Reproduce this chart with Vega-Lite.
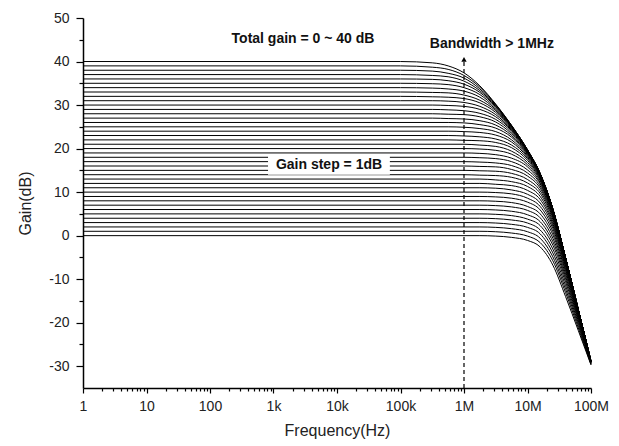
{
"$schema": "https://vega.github.io/schema/vega-lite/v6.json",
"width": 508, "height": 370,
"autosize": {"type": "none"},
"padding": {"left": 83, "top": 18, "right": 28, "bottom": 58},
"background": "white",
"config": {"view": {"stroke": null}, "font": "Liberation Sans",
 "axis": {"domainColor": "black", "tickColor": "black", "labelColor": "#222", "titleColor": "#222", "labelFont": "Liberation Sans", "titleFont": "Liberation Sans", "grid": false, "domainWidth": 1.5, "tickWidth": 1.2}},
"datasets": {
"curves": [
{"g":40,"f":1,"v":40},{"g":40,"f":1e5,"v":40},{"g":40,"f":316228,"v":39.7},{"g":40,"f":562341,"v":39.0},{"g":40,"f":1e6,"v":37.4},{"g":40,"f":1778279,"v":34.4},{"g":40,"f":3162278,"v":30.2},{"g":40,"f":5623413,"v":25.3},{"g":40,"f":1e7,"v":19.7},{"g":40,"f":15848932,"v":14.3},{"g":40,"f":25118864,"v":6.1},{"g":40,"f":39810717,"v":-5.1},{"g":40,"f":63095734,"v":-17.0},{"g":40,"f":1e8,"v":-28.9},
{"g":39,"f":1,"v":39},{"g":39,"f":1e5,"v":39},{"g":39,"f":316228,"v":38.7},{"g":39,"f":562341,"v":38.2},{"g":39,"f":1e6,"v":36.8},{"g":39,"f":1778279,"v":34.1},{"g":39,"f":3162278,"v":30.1},{"g":39,"f":5623413,"v":25.3},{"g":39,"f":1e7,"v":19.7},{"g":39,"f":15848932,"v":14.2},{"g":39,"f":25118864,"v":6.1},{"g":39,"f":39810717,"v":-5.1},{"g":39,"f":63095734,"v":-17.0},{"g":39,"f":1e8,"v":-28.9},
{"g":38,"f":1,"v":38},{"g":38,"f":1e5,"v":38},{"g":38,"f":316228,"v":37.8},{"g":38,"f":562341,"v":37.3},{"g":38,"f":1e6,"v":36.2},{"g":38,"f":1778279,"v":33.7},{"g":38,"f":3162278,"v":30.0},{"g":38,"f":5623413,"v":25.2},{"g":38,"f":1e7,"v":19.7},{"g":38,"f":15848932,"v":14.2},{"g":38,"f":25118864,"v":6.1},{"g":38,"f":39810717,"v":-5.1},{"g":38,"f":63095734,"v":-17.0},{"g":38,"f":1e8,"v":-28.9},
{"g":37,"f":1,"v":37},{"g":37,"f":1e5,"v":37},{"g":37,"f":316228,"v":36.8},{"g":37,"f":562341,"v":36.5},{"g":37,"f":1e6,"v":35.5},{"g":37,"f":1778279,"v":33.3},{"g":37,"f":3162278,"v":29.8},{"g":37,"f":5623413,"v":25.2},{"g":37,"f":1e7,"v":19.7},{"g":37,"f":15848932,"v":14.2},{"g":37,"f":25118864,"v":6.0},{"g":37,"f":39810717,"v":-5.1},{"g":37,"f":63095734,"v":-17.0},{"g":37,"f":1e8,"v":-28.9},
{"g":36,"f":1,"v":36},{"g":36,"f":1e5,"v":36},{"g":36,"f":316228,"v":35.9},{"g":36,"f":562341,"v":35.6},{"g":36,"f":1e6,"v":34.8},{"g":36,"f":1778279,"v":32.9},{"g":36,"f":3162278,"v":29.6},{"g":36,"f":5623413,"v":25.1},{"g":36,"f":1e7,"v":19.6},{"g":36,"f":15848932,"v":14.2},{"g":36,"f":25118864,"v":6.0},{"g":36,"f":39810717,"v":-5.1},{"g":36,"f":63095734,"v":-17.0},{"g":36,"f":1e8,"v":-28.9},
{"g":35,"f":1,"v":35},{"g":35,"f":1e5,"v":35},{"g":35,"f":316228,"v":34.9},{"g":35,"f":562341,"v":34.7},{"g":35,"f":1e6,"v":34.0},{"g":35,"f":1778279,"v":32.4},{"g":35,"f":3162278,"v":29.3},{"g":35,"f":5623413,"v":25.0},{"g":35,"f":1e7,"v":19.6},{"g":35,"f":15848932,"v":14.2},{"g":35,"f":25118864,"v":6.0},{"g":35,"f":39810717,"v":-5.1},{"g":35,"f":63095734,"v":-17.0},{"g":35,"f":1e8,"v":-28.9},
{"g":34,"f":1,"v":34},{"g":34,"f":1e5,"v":34},{"g":34,"f":316228,"v":33.9},{"g":34,"f":562341,"v":33.7},{"g":34,"f":1e6,"v":33.2},{"g":34,"f":1778279,"v":31.8},{"g":34,"f":3162278,"v":29.0},{"g":34,"f":5623413,"v":24.9},{"g":34,"f":1e7,"v":19.6},{"g":34,"f":15848932,"v":14.2},{"g":34,"f":25118864,"v":6.0},{"g":34,"f":39810717,"v":-5.1},{"g":34,"f":63095734,"v":-17.0},{"g":34,"f":1e8,"v":-28.9},
{"g":33,"f":1,"v":33},{"g":33,"f":1e5,"v":33},{"g":33,"f":316228,"v":32.9},{"g":33,"f":562341,"v":32.8},{"g":33,"f":1e6,"v":32.3},{"g":33,"f":1778279,"v":31.1},{"g":33,"f":3162278,"v":28.7},{"g":33,"f":5623413,"v":24.7},{"g":33,"f":1e7,"v":19.5},{"g":33,"f":15848932,"v":14.2},{"g":33,"f":25118864,"v":6.0},{"g":33,"f":39810717,"v":-5.1},{"g":33,"f":63095734,"v":-17.0},{"g":33,"f":1e8,"v":-28.9},
{"g":32,"f":1,"v":32},{"g":32,"f":1e5,"v":32},{"g":32,"f":316228,"v":31.9},{"g":32,"f":562341,"v":31.8},{"g":32,"f":1e6,"v":31.5},{"g":32,"f":1778279,"v":30.5},{"g":32,"f":3162278,"v":28.3},{"g":32,"f":5623413,"v":24.5},{"g":32,"f":1e7,"v":19.4},{"g":32,"f":15848932,"v":14.1},{"g":32,"f":25118864,"v":6.0},{"g":32,"f":39810717,"v":-5.1},{"g":32,"f":63095734,"v":-17.0},{"g":32,"f":1e8,"v":-28.9},
{"g":31,"f":1,"v":31},{"g":31,"f":1e5,"v":31},{"g":31,"f":316228,"v":31.0},{"g":31,"f":562341,"v":30.9},{"g":31,"f":1e6,"v":30.6},{"g":31,"f":1778279,"v":29.7},{"g":31,"f":3162278,"v":27.8},{"g":31,"f":5623413,"v":24.3},{"g":31,"f":1e7,"v":19.4},{"g":31,"f":15848932,"v":14.1},{"g":31,"f":25118864,"v":6.0},{"g":31,"f":39810717,"v":-5.2},{"g":31,"f":63095734,"v":-17.0},{"g":31,"f":1e8,"v":-28.9},
{"g":30,"f":1,"v":30},{"g":30,"f":316228,"v":30},{"g":30,"f":562341,"v":29.9},{"g":30,"f":1e6,"v":29.7},{"g":30,"f":1778279,"v":29.0},{"g":30,"f":3162278,"v":27.3},{"g":30,"f":5623413,"v":24.1},{"g":30,"f":1e7,"v":19.3},{"g":30,"f":15848932,"v":14.1},{"g":30,"f":25118864,"v":6.0},{"g":30,"f":39810717,"v":-5.2},{"g":30,"f":63095734,"v":-17.0},{"g":30,"f":1e8,"v":-28.9},
{"g":29,"f":1,"v":29},{"g":29,"f":316228,"v":29},{"g":29,"f":562341,"v":28.9},{"g":29,"f":1e6,"v":28.7},{"g":29,"f":1778279,"v":28.1},{"g":29,"f":3162278,"v":26.7},{"g":29,"f":5623413,"v":23.8},{"g":29,"f":1e7,"v":19.1},{"g":29,"f":15848932,"v":14.0},{"g":29,"f":25118864,"v":6.0},{"g":29,"f":39810717,"v":-5.2},{"g":29,"f":63095734,"v":-17.0},{"g":29,"f":1e8,"v":-28.9},
{"g":28,"f":1,"v":28},{"g":28,"f":316228,"v":28},{"g":28,"f":562341,"v":27.9},{"g":28,"f":1e6,"v":27.8},{"g":28,"f":1778279,"v":27.3},{"g":28,"f":3162278,"v":26.1},{"g":28,"f":5623413,"v":23.4},{"g":28,"f":1e7,"v":19.0},{"g":28,"f":15848932,"v":14.0},{"g":28,"f":25118864,"v":5.9},{"g":28,"f":39810717,"v":-5.2},{"g":28,"f":63095734,"v":-17.0},{"g":28,"f":1e8,"v":-28.9},
{"g":27,"f":1,"v":27},{"g":27,"f":316228,"v":27},{"g":27,"f":562341,"v":26.9},{"g":27,"f":1e6,"v":26.8},{"g":27,"f":1778279,"v":26.4},{"g":27,"f":3162278,"v":25.4},{"g":27,"f":5623413,"v":23.0},{"g":27,"f":1e7,"v":18.8},{"g":27,"f":15848932,"v":13.9},{"g":27,"f":25118864,"v":5.9},{"g":27,"f":39810717,"v":-5.2},{"g":27,"f":63095734,"v":-17.0},{"g":27,"f":1e8,"v":-28.9},
{"g":26,"f":1,"v":26},{"g":26,"f":562341,"v":26},{"g":26,"f":1e6,"v":25.9},{"g":26,"f":1778279,"v":25.5},{"g":26,"f":3162278,"v":24.7},{"g":26,"f":5623413,"v":22.6},{"g":26,"f":1e7,"v":18.6},{"g":26,"f":15848932,"v":13.8},{"g":26,"f":25118864,"v":5.9},{"g":26,"f":39810717,"v":-5.2},{"g":26,"f":63095734,"v":-17.0},{"g":26,"f":1e8,"v":-28.9},
{"g":25,"f":1,"v":25},{"g":25,"f":562341,"v":25},{"g":25,"f":1e6,"v":24.9},{"g":25,"f":1778279,"v":24.6},{"g":25,"f":3162278,"v":23.9},{"g":25,"f":5623413,"v":22.0},{"g":25,"f":1e7,"v":18.3},{"g":25,"f":15848932,"v":13.7},{"g":25,"f":25118864,"v":5.8},{"g":25,"f":39810717,"v":-5.2},{"g":25,"f":63095734,"v":-17.0},{"g":25,"f":1e8,"v":-28.9},
{"g":24,"f":1,"v":24},{"g":24,"f":562341,"v":24},{"g":24,"f":1e6,"v":23.9},{"g":24,"f":1778279,"v":23.7},{"g":24,"f":3162278,"v":23.1},{"g":24,"f":5623413,"v":21.5},{"g":24,"f":1e7,"v":18.0},{"g":24,"f":15848932,"v":13.5},{"g":24,"f":25118864,"v":5.7},{"g":24,"f":39810717,"v":-5.2},{"g":24,"f":63095734,"v":-17.0},{"g":24,"f":1e8,"v":-28.9},
{"g":23,"f":1,"v":23},{"g":23,"f":562341,"v":23},{"g":23,"f":1e6,"v":22.9},{"g":23,"f":1778279,"v":22.7},{"g":23,"f":3162278,"v":22.2},{"g":23,"f":5623413,"v":20.8},{"g":23,"f":1e7,"v":17.7},{"g":23,"f":15848932,"v":13.3},{"g":23,"f":25118864,"v":5.7},{"g":23,"f":39810717,"v":-5.3},{"g":23,"f":63095734,"v":-17.0},{"g":23,"f":1e8,"v":-28.9},
{"g":22,"f":1,"v":22},{"g":22,"f":562341,"v":22},{"g":22,"f":1e6,"v":21.9},{"g":22,"f":1778279,"v":21.8},{"g":22,"f":3162278,"v":21.4},{"g":22,"f":5623413,"v":20.2},{"g":22,"f":1e7,"v":17.3},{"g":22,"f":15848932,"v":13.1},{"g":22,"f":25118864,"v":5.6},{"g":22,"f":39810717,"v":-5.3},{"g":22,"f":63095734,"v":-17.1},{"g":22,"f":1e8,"v":-28.9},
{"g":21,"f":1,"v":21},{"g":21,"f":1e6,"v":21},{"g":21,"f":1778279,"v":20.8},{"g":21,"f":3162278,"v":20.5},{"g":21,"f":5623413,"v":19.4},{"g":21,"f":1e7,"v":16.8},{"g":21,"f":15848932,"v":12.9},{"g":21,"f":25118864,"v":5.5},{"g":21,"f":39810717,"v":-5.3},{"g":21,"f":63095734,"v":-17.1},{"g":21,"f":1e8,"v":-28.9},
{"g":20,"f":1,"v":20},{"g":20,"f":1e6,"v":20},{"g":20,"f":1778279,"v":19.9},{"g":20,"f":3162278,"v":19.6},{"g":20,"f":5623413,"v":18.7},{"g":20,"f":1e7,"v":16.3},{"g":20,"f":15848932,"v":12.6},{"g":20,"f":25118864,"v":5.3},{"g":20,"f":39810717,"v":-5.4},{"g":20,"f":63095734,"v":-17.1},{"g":20,"f":1e8,"v":-28.9},
{"g":19,"f":1,"v":19},{"g":19,"f":1e6,"v":19},{"g":19,"f":1778279,"v":18.9},{"g":19,"f":3162278,"v":18.6},{"g":19,"f":5623413,"v":17.8},{"g":19,"f":1e7,"v":15.8},{"g":19,"f":15848932,"v":12.2},{"g":19,"f":25118864,"v":5.2},{"g":19,"f":39810717,"v":-5.5},{"g":19,"f":63095734,"v":-17.1},{"g":19,"f":1e8,"v":-28.9},
{"g":18,"f":1,"v":18},{"g":18,"f":1e6,"v":18},{"g":18,"f":1778279,"v":17.9},{"g":18,"f":3162278,"v":17.7},{"g":18,"f":5623413,"v":17.0},{"g":18,"f":1e7,"v":15.1},{"g":18,"f":15848932,"v":11.9},{"g":18,"f":25118864,"v":5.0},{"g":18,"f":39810717,"v":-5.6},{"g":18,"f":63095734,"v":-17.1},{"g":18,"f":1e8,"v":-28.9},
{"g":17,"f":1,"v":17},{"g":17,"f":1e6,"v":17},{"g":17,"f":1778279,"v":16.9},{"g":17,"f":3162278,"v":16.7},{"g":17,"f":5623413,"v":16.1},{"g":17,"f":1e7,"v":14.4},{"g":17,"f":15848932,"v":11.4},{"g":17,"f":25118864,"v":4.7},{"g":17,"f":39810717,"v":-5.7},{"g":17,"f":63095734,"v":-17.2},{"g":17,"f":1e8,"v":-28.9},
{"g":16,"f":1,"v":16},{"g":16,"f":1e6,"v":16},{"g":16,"f":1778279,"v":15.9},{"g":16,"f":3162278,"v":15.8},{"g":16,"f":5623413,"v":15.2},{"g":16,"f":1e7,"v":13.7},{"g":16,"f":15848932,"v":10.9},{"g":16,"f":25118864,"v":4.4},{"g":16,"f":39810717,"v":-5.8},{"g":16,"f":63095734,"v":-17.2},{"g":16,"f":1e8,"v":-28.9},
{"g":15,"f":1,"v":15},{"g":15,"f":1e6,"v":15},{"g":15,"f":1778279,"v":14.9},{"g":15,"f":3162278,"v":14.8},{"g":15,"f":5623413,"v":14.3},{"g":15,"f":1e7,"v":12.9},{"g":15,"f":15848932,"v":10.3},{"g":15,"f":25118864,"v":4.1},{"g":15,"f":39810717,"v":-6.0},{"g":15,"f":63095734,"v":-17.3},{"g":15,"f":1e8,"v":-28.9},
{"g":14,"f":1,"v":14},{"g":14,"f":1e6,"v":14},{"g":14,"f":1778279,"v":13.9},{"g":14,"f":3162278,"v":13.8},{"g":14,"f":5623413,"v":13.4},{"g":14,"f":1e7,"v":12.1},{"g":14,"f":15848932,"v":9.7},{"g":14,"f":25118864,"v":3.7},{"g":14,"f":39810717,"v":-6.1},{"g":14,"f":63095734,"v":-17.3},{"g":14,"f":1e8,"v":-28.9},
{"g":13,"f":1,"v":13},{"g":13,"f":1778279,"v":13},{"g":13,"f":3162278,"v":12.8},{"g":13,"f":5623413,"v":12.4},{"g":13,"f":1e7,"v":11.3},{"g":13,"f":15848932,"v":9.0},{"g":13,"f":25118864,"v":3.2},{"g":13,"f":39810717,"v":-6.4},{"g":13,"f":63095734,"v":-17.4},{"g":13,"f":1e8,"v":-29.0},
{"g":12,"f":1,"v":12},{"g":12,"f":1778279,"v":12},{"g":12,"f":3162278,"v":11.8},{"g":12,"f":5623413,"v":11.5},{"g":12,"f":1e7,"v":10.4},{"g":12,"f":15848932,"v":8.3},{"g":12,"f":25118864,"v":2.7},{"g":12,"f":39810717,"v":-6.6},{"g":12,"f":63095734,"v":-17.5},{"g":12,"f":1e8,"v":-29.0},
{"g":11,"f":1,"v":11},{"g":11,"f":1778279,"v":11},{"g":11,"f":3162278,"v":10.9},{"g":11,"f":5623413,"v":10.5},{"g":11,"f":1e7,"v":9.5},{"g":11,"f":15848932,"v":7.5},{"g":11,"f":25118864,"v":2.2},{"g":11,"f":39810717,"v":-7.0},{"g":11,"f":63095734,"v":-17.7},{"g":11,"f":1e8,"v":-29.0},
{"g":10,"f":1,"v":10},{"g":10,"f":1778279,"v":10},{"g":10,"f":3162278,"v":9.9},{"g":10,"f":5623413,"v":9.6},{"g":10,"f":1e7,"v":8.6},{"g":10,"f":15848932,"v":6.7},{"g":10,"f":25118864,"v":1.6},{"g":10,"f":39810717,"v":-7.3},{"g":10,"f":63095734,"v":-17.8},{"g":10,"f":1e8,"v":-29.0},
{"g":9,"f":1,"v":9},{"g":9,"f":1778279,"v":9},{"g":9,"f":3162278,"v":8.9},{"g":9,"f":5623413,"v":8.6},{"g":9,"f":1e7,"v":7.7},{"g":9,"f":15848932,"v":5.9},{"g":9,"f":25118864,"v":0.9},{"g":9,"f":39810717,"v":-7.8},{"g":9,"f":63095734,"v":-18.0},{"g":9,"f":1e8,"v":-29.0},
{"g":8,"f":1,"v":8},{"g":8,"f":1778279,"v":8},{"g":8,"f":3162278,"v":7.9},{"g":8,"f":5623413,"v":7.6},{"g":8,"f":1e7,"v":6.7},{"g":8,"f":15848932,"v":5.0},{"g":8,"f":25118864,"v":0.2},{"g":8,"f":39810717,"v":-8.2},{"g":8,"f":63095734,"v":-18.2},{"g":8,"f":1e8,"v":-29.1},
{"g":7,"f":1,"v":7},{"g":7,"f":1778279,"v":7},{"g":7,"f":3162278,"v":6.9},{"g":7,"f":5623413,"v":6.6},{"g":7,"f":1e7,"v":5.8},{"g":7,"f":15848932,"v":4.1},{"g":7,"f":25118864,"v":-0.6},{"g":7,"f":39810717,"v":-8.8},{"g":7,"f":63095734,"v":-18.5},{"g":7,"f":1e8,"v":-29.1},
{"g":6,"f":1,"v":6},{"g":6,"f":1778279,"v":6},{"g":6,"f":3162278,"v":5.9},{"g":6,"f":5623413,"v":5.6},{"g":6,"f":1e7,"v":4.8},{"g":6,"f":15848932,"v":3.2},{"g":6,"f":25118864,"v":-1.4},{"g":6,"f":39810717,"v":-9.4},{"g":6,"f":63095734,"v":-18.8},{"g":6,"f":1e8,"v":-29.1},
{"g":5,"f":1,"v":5},{"g":5,"f":1778279,"v":5},{"g":5,"f":3162278,"v":4.9},{"g":5,"f":5623413,"v":4.6},{"g":5,"f":1e7,"v":3.8},{"g":5,"f":15848932,"v":2.3},{"g":5,"f":25118864,"v":-2.2},{"g":5,"f":39810717,"v":-10.0},{"g":5,"f":63095734,"v":-19.2},{"g":5,"f":1e8,"v":-29.2},
{"g":4,"f":1,"v":4},{"g":4,"f":1778279,"v":4},{"g":4,"f":3162278,"v":3.9},{"g":4,"f":5623413,"v":3.6},{"g":4,"f":1e7,"v":2.9},{"g":4,"f":15848932,"v":1.3},{"g":4,"f":25118864,"v":-3.1},{"g":4,"f":39810717,"v":-10.7},{"g":4,"f":63095734,"v":-19.6},{"g":4,"f":1e8,"v":-29.3},
{"g":3,"f":1,"v":3},{"g":3,"f":1778279,"v":3},{"g":3,"f":3162278,"v":2.9},{"g":3,"f":5623413,"v":2.6},{"g":3,"f":1e7,"v":1.9},{"g":3,"f":15848932,"v":0.4},{"g":3,"f":25118864,"v":-4.0},{"g":3,"f":39810717,"v":-11.5},{"g":3,"f":63095734,"v":-20.1},{"g":3,"f":1e8,"v":-29.4},
{"g":2,"f":1,"v":2},{"g":2,"f":1778279,"v":2},{"g":2,"f":3162278,"v":1.9},{"g":2,"f":5623413,"v":1.6},{"g":2,"f":1e7,"v":0.9},{"g":2,"f":15848932,"v":-0.6},{"g":2,"f":25118864,"v":-4.9},{"g":2,"f":39810717,"v":-12.3},{"g":2,"f":63095734,"v":-20.6},{"g":2,"f":1e8,"v":-29.5},
{"g":1,"f":1,"v":1},{"g":1,"f":1778279,"v":1},{"g":1,"f":3162278,"v":0.9},{"g":1,"f":5623413,"v":0.6},{"g":1,"f":1e7,"v":-0.1},{"g":1,"f":15848932,"v":-1.6},{"g":1,"f":25118864,"v":-5.8},{"g":1,"f":39810717,"v":-13.1},{"g":1,"f":63095734,"v":-21.2},{"g":1,"f":1e8,"v":-29.6},
{"g":0,"f":1,"v":0},{"g":0,"f":1778279,"v":0},{"g":0,"f":3162278,"v":-0.1},{"g":0,"f":5623413,"v":-0.4},{"g":0,"f":1e7,"v":-1.1},{"g":0,"f":15848932,"v":-2.6},{"g":0,"f":25118864,"v":-6.8},{"g":0,"f":39810717,"v":-14.0},{"g":0,"f":63095734,"v":-21.8},{"g":0,"f":1e8,"v":-29.7}
],
"marker": [{"f": 1e6, "y1": -35, "y2": 40.2}],
"box": [{"x1": 820, "x2": 68000, "y1": 14.0, "y2": 18.6}],
"labels": [
 {"f": 2917, "v": 45.2, "t": "Total gain = 0 ~ 40 dB"},
 {"f": 2750000, "v": 44.1, "t": "Bandwidth > 1MHz"},
 {"f": 7482, "v": 16.3, "t": "Gain step = 1dB"}
],
"head": [{"f": 1e6, "v": 40.5}]
},
"layer": [
 {"data": {"name": "curves"},
  "mark": {"type": "line", "interpolate": "monotone", "color": "black", "strokeWidth": 1},
  "encoding": {
   "x": {"field": "f", "type": "quantitative", "scale": {"type": "log", "domain": [1, 1e8]},
     "axis": {"values": [1,10,100,1000,10000,100000,1000000,10000000,100000000], "format": "~s", "tickSize": 5, "labelFontSize": 14, "labelPadding": 6, "labelFlush": false, "labelOverlap": false, "title": "Frequency(Hz)", "titleFontSize": 16, "titleFontWeight": "normal", "titlePadding": 9}},
   "y": {"field": "v", "type": "quantitative", "scale": {"domain": [-35, 50], "nice": false, "zero": false},
     "axis": {"values": [-30,-20,-10,0,10,20,30,40,50], "labelExpr": "'' + datum.value", "tickSize": 7, "labelFontSize": 14, "labelPadding": 7, "labelFlush": false, "title": "Gain(dB)", "titleFontSize": 16, "titleFontWeight": "normal", "titlePadding": 15}},
   "detail": {"field": "g", "type": "nominal"}
  }},
 {"data": {"name": "box"},
  "mark": {"type": "rect", "fill": "white"},
  "encoding": {
   "x": {"field": "x1", "type": "quantitative", "scale": {"type": "log", "domain": [1, 1e8]}, "axis": null},
   "x2": {"field": "x2"},
   "y": {"field": "y1", "type": "quantitative", "scale": {"domain": [-35, 50], "nice": false, "zero": false}, "axis": null},
   "y2": {"field": "y2"}
  }},
 {"data": {"name": "labels"},
  "mark": {"type": "text", "font": "Liberation Sans", "fontWeight": "bold", "fontSize": 14, "align": "center", "baseline": "middle", "color": "#111"},
  "encoding": {
   "x": {"field": "f", "type": "quantitative", "scale": {"type": "log", "domain": [1, 1e8]}, "axis": null},
   "y": {"field": "v", "type": "quantitative", "scale": {"domain": [-35, 50], "nice": false, "zero": false}, "axis": null},
   "text": {"field": "t"}
  }},
 {"data": {"name": "marker"},
  "mark": {"type": "rule", "color": "black", "strokeWidth": 1.2, "strokeDash": [4, 3]},
  "encoding": {
   "x": {"field": "f", "type": "quantitative", "scale": {"type": "log", "domain": [1, 1e8]},
     "axis": {"orient": "bottom", "values": [2,3,4,5,6,7,8,9,20,30,40,50,60,70,80,90,200,300,400,500,600,700,800,900,2000,3000,4000,5000,6000,7000,8000,9000,20000,30000,40000,50000,60000,70000,80000,90000,200000,300000,400000,500000,600000,700000,800000,900000,2000000,3000000,4000000,5000000,6000000,7000000,8000000,9000000,20000000,30000000,40000000,50000000,60000000,70000000,80000000,90000000], "labels": false, "domain": false, "tickSize": 3, "title": null}},
   "y": {"field": "y1", "type": "quantitative", "scale": {"domain": [-35, 50], "nice": false, "zero": false},
     "axis": {"orient": "left", "values": [-25,-15,-5,5,15,25,35,45], "labels": false, "domain": false, "tickSize": 4, "title": null}},
   "y2": {"field": "y2"}
  }},
 {"data": {"name": "head"},
  "mark": {"type": "point", "shape": "triangle-up", "filled": true, "color": "black", "size": 28, "opacity": 1},
  "encoding": {
   "x": {"field": "f", "type": "quantitative", "scale": {"type": "log", "domain": [1, 1e8]}, "axis": null},
   "y": {"field": "v", "type": "quantitative", "scale": {"domain": [-35, 50], "nice": false, "zero": false}, "axis": null}
  }}
],
"resolve": {"axis": {"x": "independent", "y": "independent"}}
}
